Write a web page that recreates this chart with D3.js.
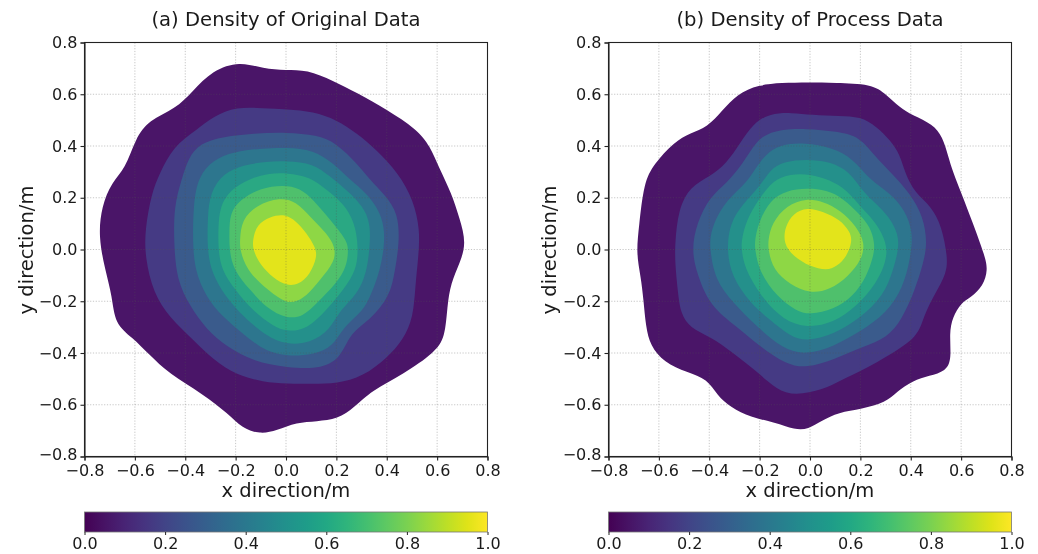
<!DOCTYPE html>
<html><head><meta charset="utf-8">
<script src="https://cdn.jsdelivr.net/npm/d3@7/dist/d3.min.js"></script>
<style>
html,body{margin:0;padding:0;background:#fff}
svg{display:block;filter:blur(0.55px)}
text{font-family:"DejaVu Sans",sans-serif;fill:#1a1a1a}
</style></head><body><svg id="c" width="1038" height="554"></svg>
<script>
const axisTicks=[-0.8,-0.6,-0.4,-0.2,0,0.2,0.4,0.6,0.8];
const barTicks=[0,0.2,0.4,0.6,0.8,1];
const bandColors=["#4a1568","#453a84","#3a5b8c","#2d768e","#24908b","#2aa883","#4fc06c","#8ed745","#e3e41b"];
const titles=["(a) Density of Original Data","(b) Density of Process Data"];
const xLabel="x direction/m", yLabel="y direction/m";

const originalContours=[
[[-.183,.728],[-.09,.698],[0,.693],[.082,.695],[.188,.652],[.281,.606],[.4,.541],[.519,.465],[.572,.4],[.61,.31],[.656,.22],[.69,.118],[.716,.024],[.69,-.053],[.654,-.13],[.64,-.22],[.632,-.34],[.59,-.398],[.47,-.48],[.338,-.546],[.272,-.61],[.205,-.656],[.122,-.664],[.042,-.668],[-.037,-.7],[-.103,-.714],[-.175,-.69],[-.228,-.636],[-.33,-.558],[-.465,-.48],[-.545,-.404],[-.61,-.34],[-.68,-.288],[-.69,-.181],[-.718,-.079],[-.745,.05],[-.732,.168],[-.692,.26],[-.638,.312],[-.598,.428],[-.545,.5],[-.438,.544],[-.372,.61],[-.292,.693]],
[[-.289,.514],[-.196,.552],[-.09,.546],[.003,.542],[.109,.533],[.201,.501],[.281,.449],[.36,.385],[.446,.295],[.506,.192],[.532,.076],[.526,-.027],[.513,-.143],[.506,-.259],[.466,-.349],[.4,-.42],[.307,-.49],[.201,-.519],[.109,-.519],[.003,-.519],[-.09,-.512],[-.196,-.486],[-.289,-.426],[-.368,-.349],[-.461,-.265],[-.527,-.169],[-.56,-.027],[-.56,.076],[-.534,.218],[-.501,.295],[-.448,.398],[-.355,.462]],
[[-.249,.436],[-.13,.449],[.003,.453],[.122,.443],[.201,.411],[.281,.333],[.334,.269],[.393,.211],[.446,.14],[.45,.024],[.433,-.079],[.413,-.181],[.334,-.272],[.254,-.323],[.221,-.413],[.148,-.462],[.003,-.457],[-.13,-.432],[-.236,-.375],[-.315,-.31],[-.381,-.22],[-.434,-.117],[-.445,.024],[-.445,.166],[-.415,.269],[-.388,.353],[-.342,.411]],
[[-.289,.346],[-.209,.378],[-.09,.391],[.003,.394],[.109,.385],[.188,.333],[.254,.269],[.321,.218],[.387,.127],[.393,.024],[.374,-.079],[.34,-.169],[.307,-.239],[.228,-.297],[.188,-.375],[.109,-.407],[.003,-.413],[-.077,-.394],[-.143,-.349],[-.236,-.272],[-.302,-.207],[-.355,-.104],[-.371,-.001],[-.368,.179],[-.348,.282]],
[[-.249,.295],[-.17,.327],[-.077,.34],[.003,.342],[.109,.333],[.175,.282],[.241,.23],[.307,.166],[.334,.102],[.334,.024],[.321,-.091],[.281,-.175],[.215,-.233],[.175,-.31],[.095,-.362],[.003,-.368],[-.077,-.336],[-.17,-.259],[-.242,-.181],[-.295,-.091],[-.313,-.001],[-.311,.127],[-.302,.218]],
[[-.223,.23],[-.143,.275],[-.064,.295],[.003,.295],[.095,.282],[.162,.23],[.228,.179],[.274,.102],[.287,.012],[.281,-.079],[.228,-.156],[.162,-.233],[.082,-.31],[.003,-.317],[-.05,-.297],[-.13,-.239],[-.203,-.156],[-.256,-.079],[-.269,-.001],[-.269,.089],[-.262,.166]],
[[-.183,.192],[-.103,.237],[-.011,.25],[.056,.237],[.109,.192],[.175,.115],[.241,.037],[.248,-.001],[.241,-.066],[.201,-.13],[.122,-.207],[.069,-.259],[.003,-.268],[-.077,-.227],[-.143,-.156],[-.209,-.079],[-.225,-.001],[-.225,.063],[-.223,.14]],
[[-.117,.172],[-.024,.202],[.042,.185],[.095,.127],[.162,.063],[.195,.012],[.195,-.046],[.135,-.117],[.082,-.181],[.029,-.207],[-.011,-.201],[-.09,-.143],[-.156,-.079],[-.183,-.001],[-.183,.037],[-.176,.115]],
[[-.064,.127],[-.004,.138],[.042,.108],[.082,.063],[.115,.012],[.125,-.027],[.095,-.098],[.049,-.136],[.003,-.14],[-.05,-.111],[-.103,-.059],[-.132,-.001],[-.132,.037],[-.117,.095]]
];

const processContours=[
[[-.205,.636],[-.113,.644],[-.007,.646],[.099,.644],[.245,.64],[.302,.6],[.355,.55],[.408,.518],[.487,.485],[.527,.434],[.548,.362],[.568,.298],[.6,.22],[.646,.104],[.695,-.027],[.706,-.079],[.688,-.14],[.64,-.185],[.6,-.205],[.566,-.262],[.553,-.323],[.562,-.424],[.54,-.47],[.474,-.488],[.408,-.507],[.342,-.552],[.302,-.591],[.205,-.617],[.113,-.629],[.046,-.662],[-.007,-.695],[-.06,-.697],[-.139,-.668],[-.236,-.649],[-.315,-.61],[-.368,-.565],[-.408,-.5],[-.487,-.475],[-.58,-.436],[-.634,-.372],[-.652,-.297],[-.661,-.194],[-.672,-.104],[-.69,-.014],[-.679,.089],[-.66,.258],[-.62,.33],[-.54,.415],[-.474,.45],[-.408,.472],[-.348,.537],[-.289,.601]],
[[-.159,.526],[-.073,.529],[.007,.52],[.119,.516],[.199,.514],[.265,.475],[.318,.423],[.358,.366],[.377,.295],[.417,.218],[.483,.166],[.523,.089],[.546,-.027],[.543,-.091],[.497,-.169],[.45,-.259],[.43,-.336],[.318,-.407],[.212,-.465],[.126,-.503],[.053,-.542],[-.06,-.565],[-.132,-.542],[-.212,-.471],[-.305,-.4],[-.397,-.336],[-.477,-.304],[-.513,-.246],[-.523,-.181],[-.536,-.053],[-.536,.024],[-.523,.153],[-.477,.243],[-.397,.282],[-.331,.333],[-.278,.411],[-.225,.488]],
[[-.45,.102],[-.397,.205],[-.331,.256],[-.265,.333],[-.212,.423],[-.146,.462],[-.013,.468],[.106,.456],[.199,.436],[.258,.359],[.318,.301],[.397,.218],[.45,.127],[.466,.024],[.45,-.053],[.417,-.156],[.364,-.272],[.305,-.342],[.212,-.375],[.093,-.426],[-.013,-.458],[-.093,-.445],[-.199,-.375],[-.291,-.297],[-.397,-.22],[-.45,-.091],[-.47,-.001]],
[[-.377,.115],[-.331,.192],[-.252,.256],[-.205,.333],[-.152,.391],[-.079,.411],[0,.411],[.119,.385],[.185,.333],[.238,.269],[.318,.218],[.377,.153],[.411,.063],[.397,-.04],[.371,-.143],[.305,-.246],[.199,-.317],[.093,-.375],[-.013,-.407],[-.106,-.387],[-.212,-.297],[-.305,-.207],[-.377,-.117],[-.397,-.001],[-.397,.05]],
[[-.318,.102],[-.265,.179],[-.199,.243],[-.159,.308],[-.106,.34],[-.013,.349],[.079,.34],[.159,.301],[.212,.218],[.291,.153],[.338,.089],[.358,.024],[.331,-.079],[.291,-.181],[.199,-.265],[.093,-.329],[-.013,-.355],[-.079,-.336],[-.159,-.272],[-.238,-.207],[-.311,-.104],[-.331,-.001]],
[[-.252,.115],[-.205,.192],[-.146,.269],[-.079,.292],[0,.292],[.079,.269],[.146,.23],[.199,.166],[.265,.102],[.305,.024],[.305,-.04],[.265,-.13],[.185,-.22],[.093,-.284],[-.013,-.304],[-.106,-.272],[-.185,-.194],[-.258,-.079],[-.272,-.001],[-.272,.037]],
[[-.205,.102],[-.159,.192],[-.093,.228],[-.013,.237],[.066,.23],[.132,.198],[.199,.134],[.238,.089],[.258,.024],[.252,-.027],[.225,-.104],[.172,-.181],[.093,-.233],[0,-.252],[-.053,-.239],[-.132,-.181],[-.199,-.091],[-.219,-.001],[-.219,.037]],
[[-.152,.102],[-.093,.172],[-.013,.198],[.053,.185],[.119,.153],[.185,.089],[.219,.024],[.205,-.04],[.152,-.104],[.079,-.156],[0,-.171],[-.079,-.136],[-.146,-.079],[-.166,-.001],[-.166,.037]],
[[-.099,.089],[-.066,.14],[-.013,.163],[.053,.147],[.119,.115],[.159,.069],[.168,.031],[.146,-.027],[.106,-.066],[.066,-.081],[0,-.066],[-.066,-.027],[-.106,.024]]
];

const svg=d3.select("#c");
const panels=[
 {contours:originalContours,title:titles[0],left:84.5,right:487.5,labelX:27},
 {contours:processContours,title:titles[1],left:608.5,right:1011.5,labelX:550}
];
const top_=42.5,bottom_=456.5,barTop=512,barBottom=532;

const grad=svg.append("defs").append("linearGradient").attr("id","vir");
d3.range(0,1.0001,0.05).forEach(t=>grad.append("stop").attr("offset",t).attr("stop-color",d3.interpolateViridis(t)));

panels.forEach(p=>{
 const x=d3.scaleLinear().domain([-0.8,0.8]).range([p.left,p.right]);
 const y=d3.scaleLinear().domain([-0.8,0.8]).range([bottom_,top_]);
 const g=svg.append("g");
 const line=d3.line().x(d=>x(d[0])).y(d=>y(d[1])).curve(d3.curveBasisClosed);
 g.selectAll("path.band").data(p.contours).join("path").attr("class","band")
  .attr("d",line).attr("fill",(d,i)=>bandColors[i]);
 // grid on top of the fill
 const grid=g.append("g").attr("stroke","#555").attr("stroke-width",0.8).attr("stroke-dasharray","1.2,1.6").attr("stroke-opacity",0.42);
 grid.selectAll("line.v").data(axisTicks.slice(1,-1)).join("line").attr("x1",d=>x(d)).attr("x2",d=>x(d)).attr("y1",top_).attr("y2",bottom_);
 grid.selectAll("line.h").data(axisTicks.slice(1,-1)).join("line").attr("y1",d=>y(d)).attr("y2",d=>y(d)).attr("x1",p.left).attr("x2",p.right);
 const fmt=d=>d3.format(".1f")(d).replace("-","\u2212");
 const ax=g.append("g").attr("transform",`translate(0,${bottom_})`).call(d3.axisBottom(x).tickValues(axisTicks).tickFormat(fmt).tickSize(4).tickPadding(2));
 const ay=g.append("g").attr("transform",`translate(${p.left},0)`).call(d3.axisLeft(y).tickValues(axisTicks).tickFormat(fmt).tickSize(4).tickPadding(3));
 [ax,ay].forEach(a=>{a.selectAll("text").style("font-size","16px").style("font-family",'"DejaVu Sans"');a.selectAll("line,path").attr("stroke","#222").attr("stroke-width",1.1);a.attr("font-family",null)});
 ax.selectAll("text").attr("dy","0.82em");
 ay.selectAll("text").filter(d=>d===-0.8).attr("dy","0.2em");
 g.append("rect").attr("x",p.left).attr("y",top_).attr("width",p.right-p.left).attr("height",bottom_-top_).attr("fill","none").attr("stroke","#222").attr("stroke-width",1.1);
 g.append("text").attr("x",(p.left+p.right)/2).attr("y",26).attr("text-anchor","middle").style("font-size","19.6px").text(p.title);
 g.append("text").attr("x",(p.left+p.right)/2).attr("y",497).attr("text-anchor","middle").style("font-size","19.5px").text(xLabel);
 g.append("text").attr("transform",`translate(${p.labelX+6},250) rotate(-90)`).attr("text-anchor","middle").style("font-size","19.5px").text(yLabel);
 // colour bar
 const cx=d3.scaleLinear().domain([0,1]).range([p.left,p.right]);
 g.append("rect").attr("x",p.left).attr("y",barTop).attr("width",p.right-p.left).attr("height",barBottom-barTop).attr("fill","url(#vir)").attr("stroke","#777").attr("stroke-width",0.8);
 const cb=g.append("g").attr("transform",`translate(0,${barBottom})`).call(d3.axisBottom(cx).tickValues(barTicks).tickFormat(d3.format(".1f")).tickSize(3).tickPadding(3));
 cb.select(".domain").remove();
 cb.selectAll("text").style("font-size","16px").style("font-family",'"DejaVu Sans"');
 cb.selectAll("line").attr("stroke","#222");
});
</script></body></html>
